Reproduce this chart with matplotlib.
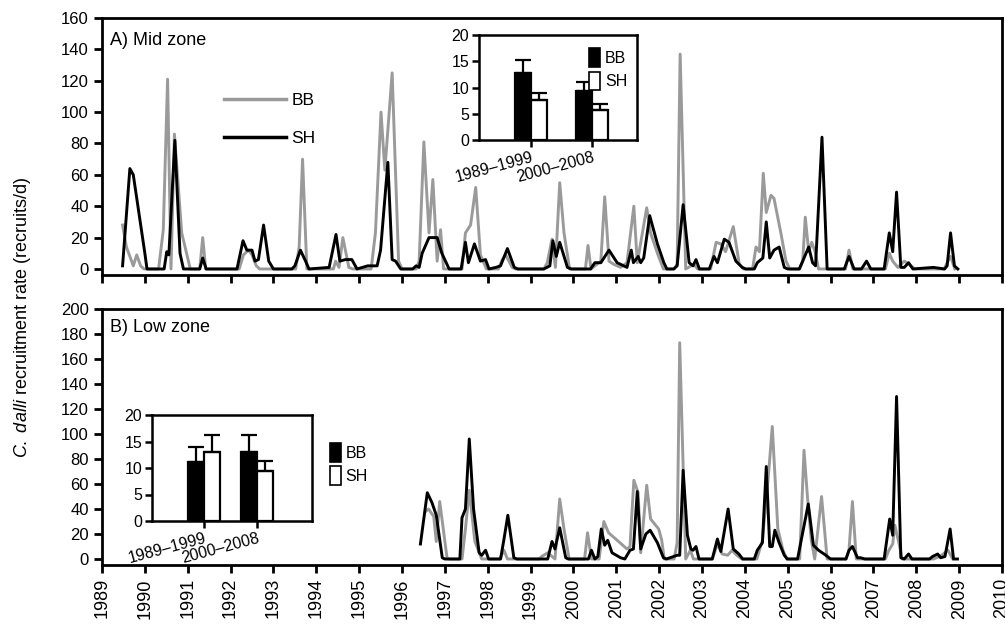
import numpy as np
import matplotlib
matplotlib.use('Agg')
import matplotlib.pyplot as plt
from matplotlib.lines import Line2D
from matplotlib.patches import Patch

plt.rcParams['font.family'] = ['Liberation Sans', 'DejaVu Sans']
plt.rcParams['mathtext.fontset'] = 'custom'
plt.rcParams['mathtext.it'] = 'Liberation Sans:italic'
plt.rcParams['mathtext.rm'] = 'Liberation Sans'

GREY = '#9a9a9a'
years = list(range(1989, 2011))

# --- A) Mid zone time series (read off the picture) ---
bb_mid_t = [1989.48, 1989.57, 1989.73, 1989.81, 1989.90, 1989.98, 1990.32, 1990.43, 1990.53, 1990.61,
            1990.69, 1990.86, 1991.06, 1991.28, 1991.35, 1991.42, 1992.20, 1992.30, 1992.42, 1992.50,
            1992.60, 1992.68, 1993.52, 1993.60, 1993.68, 1993.78, 1994.40, 1994.45, 1994.53, 1994.62,
            1994.76, 1994.85, 1995.28, 1995.38, 1995.51, 1995.60, 1995.77, 1995.92, 1996.00, 1996.33,
            1996.40, 1996.51, 1996.63, 1996.72, 1996.82, 1996.90, 1996.97, 1997.40, 1997.48, 1997.60,
            1997.72, 1997.83, 1997.97, 1998.25, 1998.34, 1998.42, 1998.57, 1998.65, 1999.31, 1999.39,
            1999.50, 1999.58, 1999.68, 1999.78, 1999.91, 2000.28, 2000.34, 2000.41, 2000.55, 2000.64,
            2000.73, 2000.83, 2000.94, 2001.10, 2001.25, 2001.41, 2001.49, 2001.71, 2001.80, 2001.96,
            2002.10, 2002.35, 2002.42, 2002.49, 2002.62, 2002.81, 2002.90, 2003.20, 2003.33, 2003.44,
            2003.55, 2003.73, 2003.87, 2003.97, 2004.18, 2004.26, 2004.34, 2004.43, 2004.50, 2004.61,
            2004.68, 2004.84, 2004.96, 2005.05, 2005.28, 2005.35, 2005.41, 2005.49, 2005.56, 2005.64,
            2005.72, 2006.35, 2006.43, 2006.52, 2007.28, 2007.37, 2007.45, 2007.57, 2007.72, 2007.83,
            2007.97, 2008.65, 2008.74, 2008.80, 2008.90]
bb_mid_v = [28, 14, 2, 9, 2, 0, 0, 25, 121, 0,
            86, 23, 0, 0, 20, 0, 0, 9, 12, 9,
            2, 0, 0, 14, 70, 0, 0, 5, 1, 20,
            1, 0, 0, 23, 100, 63, 125, 5, 0, 0,
            5, 81, 23, 57, 5, 25, 0, 0, 23, 28,
            52, 9, 0, 0, 6, 9, 1, 0, 0, 4,
            19, 1, 55, 23, 0, 0, 15, 0, 3, 5,
            46, 5, 3, 1, 4, 40, 4, 39, 23, 10,
            0, 0, 3, 137, 0, 3, 0, 0, 17, 16,
            11, 27, 3, 0, 0, 14, 11, 61, 36, 47,
            45, 23, 5, 0, 0, 5, 33, 11, 17, 11,
            0, 0, 12, 0, 0, 10, 5, 1, 5, 3,
            0, 0, 5, 8, 0]

sh_mid_t = [1989.48, 1989.65, 1989.73, 1990.00, 1990.05, 1990.45, 1990.51, 1990.56, 1990.70, 1990.82,
            1990.90, 1991.28, 1991.35, 1991.43, 1992.15, 1992.29, 1992.38, 1992.50, 1992.57, 1992.65,
            1992.77, 1992.89, 1993.00, 1993.43, 1993.50, 1993.63, 1993.75, 1993.83, 1994.30, 1994.46,
            1994.55, 1994.68, 1994.83, 1994.95, 1995.20, 1995.42, 1995.50, 1995.67, 1995.77, 1995.85,
            1995.97, 1996.25, 1996.33, 1996.40, 1996.47, 1996.63, 1996.82, 1996.93, 1997.10, 1997.38,
            1997.48, 1997.55, 1997.69, 1997.83, 1997.95, 1998.03, 1998.19, 1998.30, 1998.46, 1998.62,
            1998.70, 1999.31, 1999.45, 1999.52, 1999.60, 1999.68, 1999.86, 1999.95, 2000.40, 2000.50,
            2000.64, 2000.83, 2001.02, 2001.25, 2001.35, 2001.40, 2001.51, 2001.57, 2001.64, 2001.78,
            2001.96, 2002.11, 2002.18, 2002.34, 2002.42, 2002.56, 2002.70, 2002.79, 2002.86, 2002.94,
            2003.17, 2003.28, 2003.36, 2003.52, 2003.63, 2003.79, 2003.94, 2004.02, 2004.22, 2004.29,
            2004.42, 2004.50, 2004.58, 2004.68, 2004.80, 2004.92, 2005.00, 2005.27, 2005.35, 2005.49,
            2005.58, 2005.65, 2005.80, 2005.92, 2006.32, 2006.43, 2006.55, 2006.72, 2006.84, 2006.94,
            2007.25, 2007.37, 2007.45, 2007.54, 2007.64, 2007.72, 2007.82, 2007.92, 2008.40, 2008.66,
            2008.72, 2008.80, 2008.89, 2008.97]
sh_mid_v = [2, 64, 60, 10, 0, 0, 11, 9, 82, 10,
            0, 0, 7, 0, 0, 18, 12, 12, 5, 6,
            28, 5, 0, 0, 2, 12, 5, 0, 1, 22,
            5, 6, 6, 0, 2, 2, 12, 68, 6, 5,
            0, 0, 2, 1, 10, 20, 20, 10, 0, 0,
            17, 4, 16, 5, 6, 0, 1, 2, 13, 1,
            0, 0, 2, 18, 8, 17, 1, 0, 0, 4,
            4, 12, 4, 1, 12, 4, 8, 4, 7, 34,
            16, 4, 0, 0, 2, 41, 4, 2, 6, 0,
            0, 8, 4, 19, 17, 5, 1, 0, 0, 4,
            7, 30, 7, 12, 14, 1, 0, 0, 5, 14,
            4, 2, 84, 0, 0, 8, 0, 0, 5, 0,
            0, 23, 11, 49, 1, 1, 4, 0, 1, 0,
            2, 23, 2, 0]

# --- B) Low zone time series ---
bb_low_t = [1996.55, 1996.62, 1996.74, 1996.80, 1996.88, 1997.05, 1997.10, 1997.40, 1997.48, 1997.57,
            1997.70, 1997.86, 1998.28, 1998.38, 1998.46, 1999.20, 1999.26, 1999.40, 1999.57, 1999.68,
            1999.78, 1999.90, 2000.26, 2000.33, 2000.42, 2000.60, 2000.71, 2000.82, 2001.02, 2001.25,
            2001.32, 2001.41, 2001.51, 2001.57, 2001.71, 2001.80, 2001.99, 2002.06, 2002.12, 2002.35,
            2002.42, 2002.48, 2002.62, 2002.73, 2002.80, 2003.24, 2003.36, 2003.47, 2003.60, 2003.70,
            2003.81, 2003.93, 2004.28, 2004.41, 2004.56, 2004.64, 2004.77, 2004.89, 2004.98, 2005.28,
            2005.38, 2005.46, 2005.55, 2005.63, 2005.79, 2005.92, 2006.36, 2006.43, 2006.51, 2006.60,
            2007.28, 2007.36, 2007.45, 2007.50, 2007.60, 2007.67, 2008.40, 2008.55, 2008.74, 2008.85]
bb_low_v = [38, 40, 34, 14, 46, 1, 0, 0, 24, 55,
            14, 0, 0, 7, 0, 0, 2, 5, 0, 48,
            24, 0, 0, 21, 0, 0, 30, 21, 15, 8,
            10, 63, 53, 5, 59, 32, 24, 15, 0, 0,
            13, 173, 0, 7, 0, 0, 12, 4, 3, 7,
            3, 0, 0, 15, 71, 106, 24, 7, 0, 0,
            87, 50, 15, 0, 50, 0, 0, 7, 46, 0,
            0, 7, 12, 27, 12, 0, 0, 2, 7, 0]

sh_low_t = [1996.43, 1996.59, 1996.70, 1996.80, 1996.94, 1997.00, 1997.35, 1997.40, 1997.48, 1997.57,
            1997.67, 1997.80, 1997.86, 1997.95, 1998.02, 1998.30, 1998.38, 1998.47, 1998.61, 1998.68,
            1999.40, 1999.50, 1999.57, 1999.68, 1999.82, 1999.88, 2000.35, 2000.42, 2000.50, 2000.57,
            2000.65, 2000.73, 2000.80, 2000.90, 2001.10, 2001.20, 2001.32, 2001.40, 2001.49, 2001.57,
            2001.69, 2001.79, 2001.96, 2002.10, 2002.17, 2002.42, 2002.48, 2002.56, 2002.66, 2002.74,
            2002.79, 2002.86, 2002.93, 2003.24, 2003.36, 2003.44, 2003.61, 2003.73, 2003.86, 2003.95,
            2004.22, 2004.29, 2004.41, 2004.50, 2004.58, 2004.64, 2004.70, 2004.80, 2004.92, 2004.99,
            2005.23, 2005.48, 2005.60, 2005.72, 2005.89, 2006.00, 2006.36, 2006.43, 2006.51, 2006.63,
            2006.70, 2006.80, 2007.25, 2007.38, 2007.45, 2007.54, 2007.64, 2007.72, 2007.82, 2007.90,
            2008.31, 2008.38, 2008.50, 2008.57, 2008.67, 2008.79, 2008.87, 2008.96]
sh_low_v = [12, 53, 45, 35, 1, 0, 0, 33, 40, 96,
            40, 5, 3, 7, 0, 0, 16, 35, 1, 0,
            0, 14, 8, 25, 1, 0, 0, 7, 0, 2,
            24, 11, 15, 5, 1, 0, 7, 8, 54, 8,
            20, 23, 13, 1, 0, 3, 3, 71, 19, 8,
            7, 10, 0, 0, 16, 6, 40, 8, 4, 0,
            0, 7, 13, 74, 10, 10, 23, 13, 3, 0,
            0, 44, 11, 7, 3, 0, 0, 7, 10, 1,
            1, 0, 0, 32, 19, 130, 1, 0, 4, 0,
            0, 2, 4, 1, 2, 24, 0, 0]

# --- inset bar charts: means and upper SE ---
periods = ['1989\u20131999', '2000\u20132008']
bb_mid_mean = [12.8, 9.4]
bb_mid_se = [2.4, 1.7]
sh_mid_mean = [7.7, 5.8]
sh_mid_se = [1.3, 1.1]
bb_low_mean = [11.1, 13.1]
bb_low_se = [2.8, 3.1]
sh_low_mean = [13.0, 9.5]
sh_low_se = [3.2, 1.8]


def style_main(ax, ymax, show_labels):
    ax.set_xlim(1989, 2010)
    ax.set_ylim(-0.024 * ymax, ymax)
    ax.set_xticks(years)
    ax.set_yticks(np.arange(0, ymax + 1, 20))
    for s in ax.spines.values():
        s.set_linewidth(2)
    ax.tick_params(direction='out', length=6, width=2, labelsize=12)
    if show_labels:
        ax.set_xticklabels([str(y) for y in years], rotation=90, fontsize=13)
    else:
        ax.set_xticklabels([])


def draw_inset(ax, bb, bb_se, sh, sh_se, w, xlim):
    x = np.arange(len(periods))
    ekw = dict(elinewidth=1.6, capthick=1.6)
    ax.bar(x - w / 2, bb, w, color='black', edgecolor='black', linewidth=1.6,
           yerr=[[0] * len(bb), bb_se], capsize=6, error_kw=ekw)
    ax.bar(x + w / 2, sh, w, color='white', edgecolor='black', linewidth=1.6,
           yerr=[[0] * len(sh), sh_se], capsize=6, error_kw=ekw)
    ax.set_xlim(*xlim)
    ax.set_ylim(0, 20)
    ax.set_yticks([0, 5, 10, 15, 20])
    ax.set_xticks(x)
    ax.set_xticklabels(periods, rotation=15, ha='right', rotation_mode='anchor')
    for s in ax.spines.values():
        s.set_linewidth(1.8)
    ax.tick_params(direction='out', length=5, width=1.8, labelsize=11.5, pad=2)


fig = plt.figure(figsize=(10.05, 6.25), dpi=100)
axA = fig.add_axes([0.1015, 0.56, 0.8955, 0.4112])
axB = fig.add_axes([0.1015, 0.096, 0.8955, 0.4096])

axA.plot(bb_mid_t, bb_mid_v, color=GREY, lw=2.1)
axA.plot(sh_mid_t, sh_mid_v, color='black', lw=2.1)
style_main(axA, 160, False)
axA.text(0.009, 0.914, 'A) Mid zone', transform=axA.transAxes, fontsize=13, va='center')
axA.legend(handles=[Line2D([], [], color=GREY, lw=2.5), Line2D([], [], color='black', lw=2.5)],
           labels=['BB', 'SH'], loc='upper left', bbox_to_anchor=(0.118, 0.77), frameon=False,
           handlelength=3.6, labelspacing=1.3, handletextpad=0.3, fontsize=12.5)

axB.plot(bb_low_t, bb_low_v, color=GREY, lw=2.1)
axB.plot(sh_low_t, sh_low_v, color='black', lw=2.1)
style_main(axB, 200, True)
axB.text(0.009, 0.926, 'B) Low zone', transform=axB.transAxes, fontsize=13, va='center')

fig.text(0.022, 0.492, r'$\it{C.\ dalli}$ recruitment rate (recruits/d)', rotation=90,
         ha='center', va='center', fontsize=13)

bar_handles = [Patch(facecolor='black', edgecolor='black', lw=1.2),
               Patch(facecolor='white', edgecolor='black', lw=1.2)]

insA = fig.add_axes([0.4766, 0.776, 0.1572, 0.168])
draw_inset(insA, bb_mid_mean, bb_mid_se, sh_mid_mean, sh_mid_se, 0.26, (-0.85, 1.74))
insA.legend(bar_handles, ['BB', 'SH'], loc='upper right', bbox_to_anchor=(1.01, 0.98), frameon=False,
            handlelength=0.7, handleheight=1.4, handletextpad=0.3, labelspacing=0.3, fontsize=11.5,
            borderpad=0.2)

insB = fig.add_axes([0.1512, 0.1664, 0.1592, 0.1696])
draw_inset(insB, bb_low_mean, bb_low_se, sh_low_mean, sh_low_se, 0.3, (-0.98, 2.04))
insB.legend(bar_handles, ['BB', 'SH'], loc='upper left', bbox_to_anchor=(1.04, 0.84), frameon=False,
            handlelength=0.7, handleheight=1.4, handletextpad=0.3, labelspacing=0.3, fontsize=11.5,
            borderpad=0.2)

fig.savefig('out.png', dpi=100)
